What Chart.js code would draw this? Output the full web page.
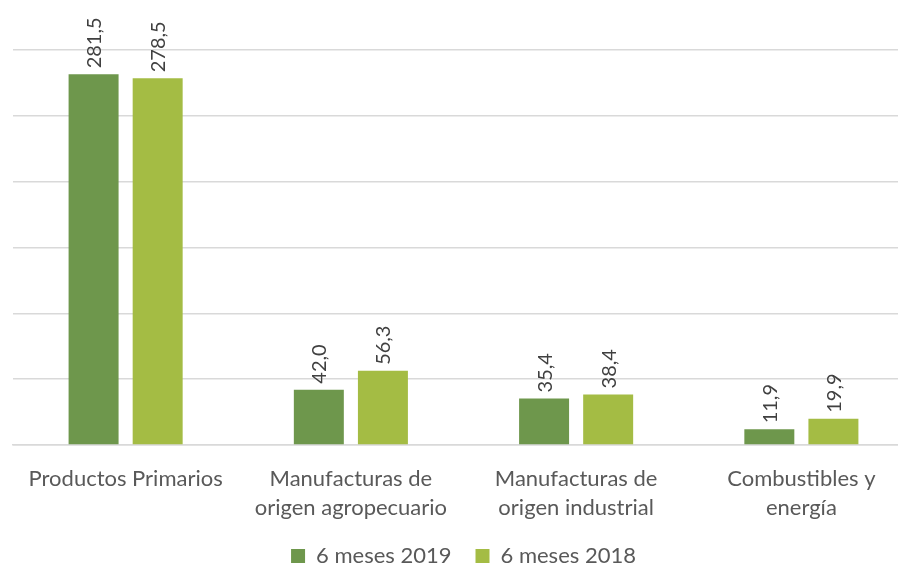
<!DOCTYPE html>
<html>
<head>
<meta charset="utf-8">
<script src="https://cdn.jsdelivr.net/npm/chart.js@4.4.1/dist/chart.umd.min.js"></script>
<style>
  html, body { margin: 0; padding: 0; background: #fff; overflow: hidden; }
  #wrap { width: 927px; height: 577px; position: relative; }
</style>
</head>
<body>
<div id="wrap"><canvas id="exportChart"></canvas></div>
<script>
const categories = [
  "Productos Primarios",
  ["Manufacturas de", "origen agropecuario"],
  ["Manufacturas de", "origen industrial"],
  ["Combustibles y", "energía"]
];
const values2019 = [281.5, 42.0, 35.4, 11.9];
const values2018 = [278.5, 56.3, 38.4, 19.9];

const textColor = "#595959";
const fontFamily = "Lato, 'Open Sans', sans-serif";

// vertical value labels above each bar
const barLabels = {
  id: "barLabels",
  afterDatasetsDraw(chart) {
    const ctx = chart.ctx;
    ctx.save();
    ctx.font = "20px " + fontFamily;
    ctx.fillStyle = "#404040";
    ctx.textAlign = "left";
    ctx.textBaseline = "middle";
    chart.data.datasets.forEach((ds, i) => {
      chart.getDatasetMeta(i).data.forEach((bar, j) => {
        const txt = ds.data[j].toFixed(1).replace(".", ",");
        ctx.save();
        ctx.translate(bar.x + 1, bar.y - 6);
        ctx.rotate(-Math.PI / 2);
        ctx.fillText(txt, 0, 0);
        ctx.restore();
      });
    });
    ctx.restore();
  }
};

// legend padding also sets the gap between items; keep the box short anyway
const legendHeight = {
  id: "legendHeight",
  afterInit(chart) {
    const legend = chart.legend;
    if (!legend) return;
    const fit = legend.fit;
    legend.fit = function () {
      fit.call(this);
      this.height = 56;
    };
  }
};

new Chart(document.getElementById("exportChart"), {
  type: "bar",
  data: {
    labels: categories,
    datasets: [
      {
        label: "6 meses 2019",
        data: values2019,
        backgroundColor: "#6E974C"
      },
      {
        label: "6 meses 2018",
        data: values2018,
        backgroundColor: "#A4BC44"
      }
    ]
  },
  options: {
    responsive: true,
    maintainAspectRatio: false,
    animation: false,
    categoryPercentage: 0.569,
    barPercentage: 0.78,
    layout: { padding: { left: 13, right: 13, top: 50, bottom: 0 } },
    plugins: {
      legend: {
        position: "bottom",
        labels: {
          boxWidth: 14,
          boxHeight: 14,
          padding: 24,
          color: textColor,
          font: { family: fontFamily, size: 22 }
        }
      },
      tooltip: { enabled: false }
    },
    scales: {
      x: {
        grid: { display: false },
        border: { color: "#d9d9d9", width: 1.5 },
        afterFit(axis) { axis.height = 76; },
        ticks: {
          color: textColor,
          padding: 11,
          maxRotation: 0,
          autoSkip: false,
          font: { family: fontFamily, size: 22, lineHeight: 1.32 }
        }
      },
      y: {
        min: 0,
        max: 300,
        ticks: { display: false, stepSize: 50 },
        grid: { color: "#d9d9d9", lineWidth: 1.5, drawTicks: false },
        border: { display: false }
      }
    }
  },
  plugins: [barLabels, legendHeight]
});
</script>
</body>
</html>
